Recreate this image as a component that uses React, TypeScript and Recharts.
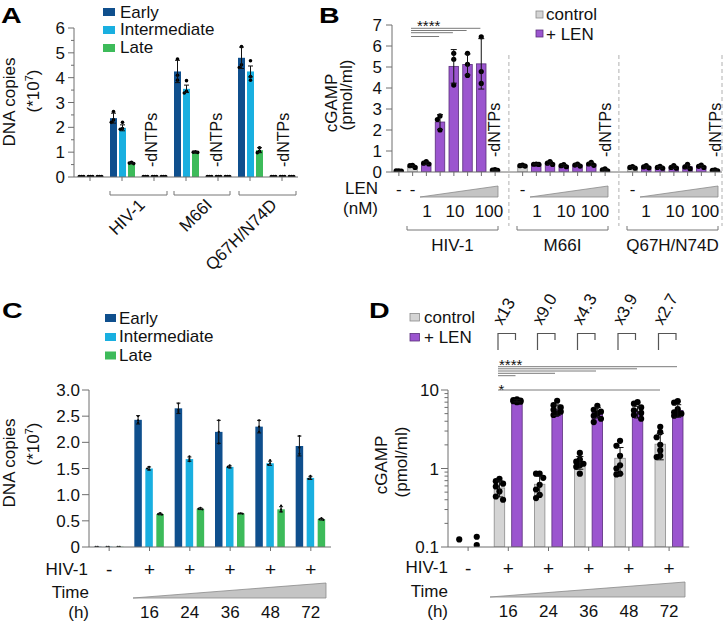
import React from 'react';
import { BarChart, Bar, XAxis, YAxis } from 'recharts';

const FONT = '"Liberation Sans", Arial, Helvetica, sans-serif';
const AX = '#6e6e6e';
const EARLY = '#0f4f8d';
const INTER = '#19afe0';
const LATE = '#3dbb5a';
const CTRL = '#d4d4d4';
const CTRL_LINE = '#8a8a8a';
const LEN = '#9b55cf';
const LEN_LINE = '#5a2f7c';

// ---------------- Panel A ----------------
const aGroups = ['mock', 'HIV-1', 'dNTPs-1', 'M66I', 'dNTPs-2', 'Q67H/N74D', 'dNTPs-3'];
const aEarly = [0.01, 2.37, 0.01, 4.25, 0.01, 4.8, 0.01];
const aEarlyErr = [0, 0.2, 0, 0.45, 0, 0.43, 0];
const aEarlyReps = [[0.02, 0.02, 0.02], [2.64, 2.3, 2.2], [0.02, 0.02, 0.02], [4.75, 4.1, 3.9], [0.02, 0.02, 0.02], [5.25, 4.52, 4.41], [0.02, 0.02, 0.02]];
const aInter = [0.01, 1.98, 0.01, 3.55, 0.01, 4.25, 0.01];
const aInterErr = [0, 0.12, 0, 0.15, 0, 0.22, 0];
const aInterReps = [[0.02, 0.02, 0.02], [2.2, 1.95, 1.92], [0.02, 0.02, 0.02], [3.88, 3.45, 3.38], [0.02, 0.02, 0.02], [4.68, 4.05, 3.9], [0.02, 0.02, 0.02]];
const aLate = [0.01, 0.56, 0.01, 1.0, 0.01, 1.08, 0.01];
const aLateErr = [0, 0.03, 0, 0.02, 0, 0.1, 0];
const aLateReps = [[0.02, 0.02, 0.02], [0.59, 0.56, 0.54], [0.02, 0.02, 0.02], [1.01, 1.0, 0.99], [0.02, 0.02, 0.02], [1.18, 1.03, 0.98], [0.02, 0.02, 0.02]];
const aYTicks = [0, 0.5, 1, 1.5, 2, 2.5, 3, 3.5, 4, 4.5, 5, 5.5, 6];
const aYLabels: Record<string, string> = { '0': '0', '1': '1', '2': '2', '3': '3', '4': '4', '5': '5', '6': '6' };

// ---------------- Panel B ----------------
const bSlots = ['s0', 's1', 's2', 's3', 's4', 's5', 's6', 's7', 's8', 's9', 's10', 's11', 's12', 's13', 's14', 's15', 's16', 's17', 's18', 's19', 's20', 's21', 's22', 's23'];
const bKind = ['ctrl', 'ctrl', 'len', 'len', 'len', 'len', 'len', 'len', 'gap', 'ctrl', 'len', 'len', 'len', 'len', 'len', 'len', 'gap', 'ctrl', 'len', 'len', 'len', 'len', 'len', 'len'];
const bVals = [0.05, 0.27, 0.42, 2.38, 5.03, 5.12, 5.15, 0.09, 0, 0.3, 0.37, 0.42, 0.3, 0.33, 0.38, 0.1, 0, 0.22, 0.24, 0.22, 0.23, 0.25, 0.27, 0.08];
const bErr = [0.01, 0.05, 0.06, 0.35, 0.8, 0.5, 1.2, 0.02, 0, 0.03, 0.02, 0.07, 0.05, 0.05, 0.07, 0.04, 0, 0.04, 0.05, 0.04, 0.06, 0.09, 0.05, 0.02];
const bReps = [[0.06, 0.05, 0.04], [0.32, 0.3, 0.22], [0.5, 0.42, 0.38], [2.67, 2.5, 2.0], [5.65, 5.37, 4.14], [5.65, 5.13, 4.6], [6.44, 4.78, 4.22], [0.12, 0.09, 0.08], [],
  [0.33, 0.3, 0.28], [0.38, 0.37, 0.36], [0.5, 0.42, 0.36], [0.35, 0.3, 0.25], [0.38, 0.33, 0.28], [0.46, 0.38, 0.32], [0.15, 0.1, 0.06], [],
  [0.26, 0.22, 0.18], [0.3, 0.24, 0.2], [0.27, 0.22, 0.18], [0.3, 0.22, 0.18], [0.36, 0.24, 0.16], [0.33, 0.27, 0.22], [0.1, 0.08, 0.06]];
const bLenRow = ['-', '-', '', '', '', '', '', '', '', '-', '', '', '', '', '', '', '', '-', '', '', '', '', '', ''];
const bYTicks = [0, 1, 2, 3, 4, 5, 6, 7];
const bYLabels: Record<string, string> = { '0': '0', '1': '1', '2': '2', '3': '3', '4': '4', '5': '5', '6': '6', '7': '7' };
const bDoses = ['1', '10', '100'];
const bViruses = ['HIV-1', 'M66I', 'Q67H/N74D'];

// ---------------- Panel C ----------------
const cGroups = ['mock', '16', '24', '36', '48', '72'];
const cHiv = ['-', '+', '+', '+', '+', '+'];
const cHours = ['', '16', '24', '36', '48', '72'];
const cEarly = [0.005, 2.43, 2.65, 2.2, 2.3, 1.93];
const cEarlyErr = [0, 0.08, 0.1, 0.22, 0.12, 0.19];
const cEarlyReps = [[0.005, 0.005], [2.5, 2.42, 2.37], [2.74, 2.62, 2.58], [2.42, 2.2, 1.98], [2.42, 2.3, 2.2], [2.12, 1.9, 1.78]];
const cInter = [0.005, 1.5, 1.68, 1.53, 1.6, 1.32];
const cInterErr = [0, 0.03, 0.04, 0.02, 0.04, 0.03];
const cInterReps = [[0.005, 0.005], [1.53, 1.5, 1.48], [1.73, 1.68, 1.64], [1.56, 1.53, 1.52], [1.66, 1.6, 1.57], [1.36, 1.32, 1.3]];
const cLate = [0.005, 0.63, 0.73, 0.64, 0.72, 0.53];
const cLateErr = [0, 0.015, 0.015, 0.005, 0.05, 0.015];
const cLateReps = [[0.005, 0.005], [0.65, 0.63, 0.62], [0.75, 0.73, 0.72], [0.645, 0.64, 0.635], [0.79, 0.72, 0.68], [0.55, 0.53, 0.52]];
const cYTicks = [0, 0.5, 1, 1.5, 2, 2.5, 3];
const cYLabels: Record<string, string> = { '0': '0', '0.5': '0.5', '1': '1.0', '1.5': '1.5', '2': '2.0', '2.5': '2.5', '3': '3.0' };

// ---------------- Panel D ----------------
const dGroups = ['mock', '16', '24', '36', '48', '72'];
const dHiv = ['-', '+', '+', '+', '+', '+'];
const dHours = ['', '16', '24', '36', '48', '72'];
const dCtrl = [0.125, 0.565, 0.63, 1.2, 1.35, 2.04];
const dCtrlErr = [0, 0.13, 0.17, 0.22, 0.5, 0.75];
const dCtrlReps = [[0.125], [0.74, 0.69, 0.64, 0.59, 0.51, 0.44, 0.4], [0.86, 0.86, 0.76, 0.62, 0.54, 0.46, 0.42], [1.58, 1.3, 1.22, 1.15, 1.1, 1.05, 0.86], [2.25, 1.95, 1.45, 1.1, 1.0, 0.86, 0.84], [3.4, 2.9, 2.5, 2.0, 1.7, 1.45, 1.4]];
const dLen = [0.12, 7.3, 5.6, 5.2, 5.3, 5.5];
const dLenErr = [0, 0.25, 0.85, 0.8, 0.9, 1.0];
const dLenReps = [[0.135, 0.106], [7.6, 7.45, 7.35, 7.25, 7.2, 7.1, 7.0], [7.3, 6.4, 6.0, 5.6, 5.3, 5.0, 4.8], [6.3, 5.6, 5.3, 5.0, 4.7, 4.3, 3.9], [7.0, 6.7, 6.0, 5.5, 5.1, 4.8, 4.3], [7.2, 6.9, 5.7, 5.2, 5.0, 4.9, 4.7]];
const dNoBar = [true, false, false, false, false, false];
const dFolds = ['x13', 'x9.0', 'x4.3', 'x3.9', 'x2.7'];
const dYTicks = [0.1, 0.2, 0.3, 0.4, 0.5, 0.6, 0.7, 0.8, 0.9, 1, 2, 3, 4, 5, 6, 7, 8, 9, 10];
const dYLabels: Record<string, string> = { '0.1': '0.1', '1': '1', '10': '10' };

// ---------------- table builders ----------------
const aData = aGroups.map((g, i) => ({ g, early: aEarly[i], earlyErr: aEarlyErr[i], earlyReps: aEarlyReps[i], inter: aInter[i], interErr: aInterErr[i], interReps: aInterReps[i], late: aLate[i], lateErr: aLateErr[i], lateReps: aLateReps[i] }));
const bData = bSlots.map((s, i) => ({ s, v: bVals[i], err: bErr[i], reps: bReps[i], gap: bKind[i] === 'gap', fill: bKind[i] === 'len' ? LEN : CTRL, line: bKind[i] === 'len' ? LEN_LINE : CTRL_LINE }));
const cData = cGroups.map((g, i) => ({ g, early: cEarly[i], earlyErr: cEarlyErr[i], earlyReps: cEarlyReps[i], inter: cInter[i], interErr: cInterErr[i], interReps: cInterReps[i], late: cLate[i], lateErr: cLateErr[i], lateReps: cLateReps[i] }));
const dData = dGroups.map((g, i) => ({ g, ctrl: dCtrl[i], ctrlErr: dCtrlErr[i], ctrlReps: dCtrlReps[i], len: dLen[i], lenErr: dLenErr[i], lenReps: dLenReps[i], noBar: dNoBar[i] }));

// ---------------- helpers ----------------
function placeDots(cx: number, ys: number[], r: number, step: number, maxK: number) {
  const placed: [number, number][] = [];
  const ks: number[] = [0];
  for (let k = 1; k <= maxK; k++) ks.push(-k, k);
  for (const py of ys) {
    let best = cx;
    let bestD = -1;
    for (const k of ks) {
      const px = cx + k * step;
      let md = Infinity;
      for (const [qx, qy] of placed) md = Math.min(md, Math.hypot(qx - px, qy - py));
      if (md >= 2 * r * 0.85) { best = px; break; }
      if (md > bestD) { bestD = md; best = px; }
    }
    placed.push([best, py]);
  }
  return placed;
}

interface Cfg {
  key: string; errKey: string; repsKey: string;
  fill?: string; fillKey?: string; stroke?: string; strokeKey?: string; sw: number;
  r: number; cap: number; min: number; max: number; log?: boolean; step: number; maxK: number; noBarKey?: string;
}

function makeShape(c: Cfg) {
  const f = (v: number) => (c.log ? Math.log10(Math.max(v, 1e-9)) : v);
  return (props: any) => {
    const { x, y, width, height, payload, background } = props;
    if (x == null || !payload) return <g />;
    const mean: number = payload[c.key];
    let toY: (v: number) => number;
    if (background && background.height > 0 && isFinite(background.y)) {
      toY = (v) => background.y + background.height * (f(c.max) - f(Math.max(v, c.min))) / (f(c.max) - f(c.min));
    } else {
      const bottom = y + height;
      const denom = f(mean) - f(c.min) || 1;
      toY = (v) => bottom - height * (f(Math.max(v, c.min)) - f(c.min)) / denom;
    }
    const cx = x + width / 2;
    const fill = c.fillKey ? payload[c.fillKey] : c.fill;
    const stroke = c.strokeKey ? payload[c.strokeKey] : c.stroke;
    const noBar = c.noBarKey ? payload[c.noBarKey] : false;
    const err: number = payload[c.errKey] || 0;
    const reps: number[] = payload[c.repsKey] || [];
    const e1 = toY(mean + err);
    const e2 = toY(Math.max(mean - err, c.min));
    const dots = placeDots(cx, reps.map(toY), c.r, c.step, c.maxK);
    return (
      <g>
        {!noBar && height > 0 && (
          <rect x={x} y={y} width={width} height={height} fill={fill} stroke={stroke || 'none'} strokeWidth={c.sw} />
        )}
        {dots.map(([px, py], i) => (
          <circle key={i} cx={px} cy={py} r={c.r} fill="#000" />
        ))}
        {err > 0 && (
          <g stroke="#111" strokeWidth={1}>
            <line x1={cx} x2={cx} y1={e1} y2={e2} />
            <line x1={cx - c.cap / 2} x2={cx + c.cap / 2} y1={e1} y2={e1} />
            <line x1={cx - c.cap / 2} x2={cx + c.cap / 2} y1={e2} y2={e2} />
          </g>
        )}
      </g>
    );
  };
}

function yTick(labels: Record<string, string>, major: number, minor: number, gap: number) {
  return (props: any) => {
    const { x, y, payload } = props;
    const lab = labels[String(payload.value)];
    const len = lab !== undefined ? major : minor;
    return (
      <g>
        <line x1={x} x2={x - len} y1={y} y2={y} stroke={AX} strokeWidth={1} />
        {lab !== undefined && (
          <text x={x - gap} y={y + 6} textAnchor="end" fontSize={17} fontFamily={FONT} fill="#111">{lab}</text>
        )}
      </g>
    );
  };
}

const aXTick = (props: any) => {
  const { x, y } = props;
  return <line x1={x} x2={x} y1={y} y2={y + 4} stroke={AX} />;
};

const bXTick = (props: any) => {
  const { x, y, payload } = props;
  const i = bSlots.indexOf(payload.value);
  if (i < 0 || bKind[i] === 'gap') return <g />;
  return (
    <g>
      <line x1={x} x2={x} y1={y} y2={y + 4} stroke={AX} />
      {bLenRow[i] && (
        <text x={x} y={y + 23} textAnchor="middle" fontSize={17} fontFamily={FONT} fill="#111">{bLenRow[i]}</text>
      )}
    </g>
  );
};

function timeTick(groups: string[], hiv: string[], hours: string[], dy1: number, dy2: number) {
  return (props: any) => {
    const { x, y, payload } = props;
    const i = groups.indexOf(payload.value);
    return (
      <g>
        <line x1={x} x2={x} y1={y} y2={y + 4} stroke={AX} />
        <text x={x} y={y + dy1} textAnchor="middle" fontSize={19} fontFamily={FONT} fill="#111">{hiv[i]}</text>
        <text x={x} y={y + dy2} textAnchor="middle" fontSize={17} fontFamily={FONT} fill="#111">{hours[i]}</text>
      </g>
    );
  };
}

function Txt({ x, y, s = 17, a = 'start', r = 0, w, children, fill = '#111' }: any) {
  return (
    <text transform={`translate(${x},${y})${r ? ` rotate(${r})` : ''}`} fontSize={s} textAnchor={a} fontWeight={w} fill={fill} fontFamily={FONT}>
      {children}
    </text>
  );
}

function Letter({ x, y, children }: any) {
  return (
    <text transform={`translate(${x},${y}) scale(1.3,1)`} fontSize={22} fontWeight="bold" fill="#000" fontFamily={FONT}>
      {children}
    </text>
  );
}

function Ten7({ x, y }: any) {
  return (
    <text transform={`translate(${x},${y}) rotate(-90)`} fontSize={17} textAnchor="middle" fill="#111" fontFamily={FONT}>
      (*10<tspan dy={-6} fontSize={11}>7</tspan><tspan dy={6}>)</tspan>
    </text>
  );
}

function Bracket({ x1, x2, y, h = 4 }: any) {
  return <path d={`M${x1},${y - h} V${y} H${x2} V${y - h}`} fill="none" stroke="#777" strokeWidth={1} />;
}

function Overlay() {
  const gl = '#7a7a7a';
  return (
    <svg width={724} height={622} style={{ position: 'absolute', left: 0, top: 0, pointerEvents: 'none' }}>
      {/* Panel letters */}
      <Letter x={1} y={23}>A</Letter>
      <Letter x={319} y={23}>B</Letter>
      <Letter x={2} y={318}>C</Letter>
      <Letter x={369} y={318}>D</Letter>

      {/* ---- A ---- */}
      <rect x={103} y={8} width={12} height={8} fill={EARLY} />
      <rect x={103} y={26} width={12} height={8} fill={INTER} />
      <rect x={103} y={44} width={12} height={8} fill={LATE} />
      <Txt x={120} y={17.5}>Early</Txt>
      <Txt x={120} y={35.3}>Intermediate</Txt>
      <Txt x={120} y={53}>Late</Txt>
      <Txt x={14.5} y={102} r={-90} a="middle">DNA copies</Txt>
      <Ten7 x={38.5} y={91} />
      {[151, 216, 283].map((x, i) => (
        <Txt key={i} x={x + 5.8} y={167} r={-90} s={16}>-dNTPs</Txt>
      ))}
      <Bracket x1={110} x2={167} y={195} />
      <Bracket x1={174} x2={230} y={195} />
      <Bracket x1={239} x2={296} y={195} />
      <Txt x={146} y={206} r={-45} a="end">HIV-1</Txt>
      <Txt x={213} y={206} r={-45} a="end">M66I</Txt>
      <Txt x={278} y={206} r={-45} a="end">Q67H/N74D</Txt>

      {/* ---- B ---- */}
      <rect x={536} y={11} width={7} height={7} fill={CTRL} stroke={CTRL_LINE} strokeWidth={0.8} />
      <rect x={536} y={30} width={7} height={7} fill={LEN} stroke={LEN_LINE} strokeWidth={0.8} />
      <Txt x={546} y={20}>control</Txt>
      <Txt x={546} y={40}>+ LEN</Txt>
      <Txt x={337} y={103} r={-90} a="middle">cGAMP</Txt>
      <Txt x={351.5} y={95} r={-90} a="middle">(pmol/ml)</Txt>
      {[494, 605, 715].map((x, i) => (
        <Txt key={i} x={x + 5.8} y={157} r={-90} s={16}>-dNTPs</Txt>
      ))}
      {[508.9, 618.9, 722].map((x, i) => (
        <line key={i} x1={x} x2={x} y1={55} y2={226} stroke="#b0b0b0" strokeDasharray="4 3" strokeWidth={1} />
      ))}
      <Txt x={417} y={31} s={15}>****</Txt>
      {[[28.3, 480.4], [30.5, 466.6], [32.7, 452.9], [36.5, 439.1]].map(([y, x2], i) => (
        <line key={i} x1={411} x2={x2} y1={y} y2={y} stroke={gl} strokeWidth={1} />
      ))}
      <Txt x={378} y={194} a="end">LEN</Txt>
      <Txt x={378} y={214} a="end">(nM)</Txt>
      {[[420, 498], [530, 608], [640, 718]].map(([x1, x2], i) => (
        <polygon key={i} points={`${x1},197 ${x2},186 ${x2},197`} fill="#c4c4c4" stroke="#8a8a8a" strokeWidth={0.8} />
      ))}
      {[[427, 455, 489], [537, 566, 595], [646, 675, 705]].map((xs, i) =>
        xs.map((x, j) => (
          <Txt key={`${i}-${j}`} x={x} y={217} a="middle">{bDoses[j]}</Txt>
        ))
      )}
      {[[407, 498], [517, 608], [627, 718]].map(([x1, x2], i) => (
        <g key={i}>
          <Bracket x1={x1} x2={x2} y={230} />
          <Txt x={(x1 + x2) / 2} y={251} a="middle">{bViruses[i]}</Txt>
        </g>
      ))}

      {/* ---- C ---- */}
      <rect x={105} y={314} width={11} height={8} fill={EARLY} />
      <rect x={105} y={333} width={11} height={8} fill={INTER} />
      <rect x={105} y={351.5} width={11} height={8} fill={LATE} />
      <Txt x={119} y={323.5}>Early</Txt>
      <Txt x={119} y={342}>Intermediate</Txt>
      <Txt x={119} y={360.7}>Late</Txt>
      <Txt x={15} y={463} r={-90} a="middle">DNA copies</Txt>
      <Ten7 x={38.5} y={444} />
      <Txt x={88} y={575} a="end">HIV-1</Txt>
      <Txt x={89} y={598} a="end">Time</Txt>
      <Txt x={89} y={618} a="end">(h)</Txt>
      <polygon points="133,598 326,583 326,598" fill="#c4c4c4" stroke="#8a8a8a" strokeWidth={0.8} />

      {/* ---- D ---- */}
      <rect x={410} y={313.5} width={9.5} height={7.5} fill={CTRL} stroke={CTRL_LINE} strokeWidth={0.8} />
      <rect x={410} y={333.5} width={9.5} height={7.5} fill={LEN} stroke={LEN_LINE} strokeWidth={0.8} />
      <Txt x={424} y={323}>control</Txt>
      <Txt x={424} y={343}>+ LEN</Txt>
      <Txt x={387} y={465} r={-90} a="middle">cGAMP</Txt>
      <Txt x={406.5} y={462} r={-90} a="middle">(pmol/ml)</Txt>
      <Txt x={448} y={573} a="end">HIV-1</Txt>
      <Txt x={448} y={597} a="end">Time</Txt>
      <Txt x={448} y={617} a="end">(h)</Txt>
      <polygon points="490,597 685,582 685,597" fill="#c4c4c4" stroke="#8a8a8a" strokeWidth={0.8} />
      {[498, 537.5, 577.5, 618, 658.5].map((x, i) => (
        <g key={i}>
          <path d={`M${x},350 V333.5 H${x + 17.5} V340`} fill="none" stroke="#555" strokeWidth={1.2} />
          <Txt x={x + 4} y={326} r={-60}>{dFolds[i]}</Txt>
        </g>
      ))}
      <Txt x={499} y={369.6} s={15}>****</Txt>
      {[[366.7, 677], [368.8, 637], [371, 596], [373.3, 555], [375.7, 515.5]].map(([y, x2], i) => (
        <line key={i} x1={498} x2={x2} y1={y} y2={y} stroke={gl} strokeWidth={1} />
      ))}
      <Txt x={498.5} y={394.6} s={15}>*</Txt>
      <line x1={498} x2={660} y1={390} y2={390} stroke={gl} strokeWidth={1} />
    </svg>
  );
}

export default function App() {
  return (
    <div style={{ position: 'absolute', left: 0, top: 0, width: 724, height: 622, background: '#fff', fontFamily: FONT, overflow: 'hidden' }}>
      {/* Panel A */}
      <div style={{ position: 'absolute', left: 0, top: 0 }}>
        <BarChart width={310} height={230} data={aData} margin={{ top: 28, right: 12, bottom: 0, left: 0 }} barGap={2}>
          <XAxis dataKey="g" height={53} interval={0} tickSize={0} tickMargin={0} tickLine={false} axisLine={{ stroke: AX }} tick={aXTick} />
          <YAxis width={74} type="number" domain={[0, 6]} ticks={aYTicks} interval={0} tickSize={0} tickMargin={0} tickLine={false} axisLine={{ stroke: AX }} tick={yTick(aYLabels, 6, 3, 9)} allowDataOverflow />
          <Bar dataKey="early" barSize={7} isAnimationActive={false} shape={makeShape({ key: 'early', errKey: 'earlyErr', repsKey: 'earlyReps', fill: EARLY, sw: 0, r: 1.8, cap: 5, min: 0, max: 6, step: 2.2, maxK: 1 })} />
          <Bar dataKey="inter" barSize={7} isAnimationActive={false} shape={makeShape({ key: 'inter', errKey: 'interErr', repsKey: 'interReps', fill: INTER, sw: 0, r: 1.8, cap: 5, min: 0, max: 6, step: 2.2, maxK: 1 })} />
          <Bar dataKey="late" barSize={7} isAnimationActive={false} shape={makeShape({ key: 'late', errKey: 'lateErr', repsKey: 'lateReps', fill: LATE, sw: 0, r: 1.8, cap: 5, min: 0, max: 6, step: 2.2, maxK: 1 })} />
        </BarChart>
      </div>

      {/* Panel B */}
      <div style={{ position: 'absolute', left: 300, top: 0 }}>
        <BarChart width={424} height={260} data={bData} margin={{ top: 25, right: 2, bottom: 0, left: 0 }}>
          <XAxis dataKey="s" height={88} interval={0} tickSize={0} tickMargin={0} tickLine={false} axisLine={{ stroke: AX }} tick={bXTick} />
          <YAxis width={92} type="number" domain={[0, 7]} ticks={bYTicks} interval={0} tickSize={0} tickMargin={0} tickLine={false} axisLine={{ stroke: AX }} tick={yTick(bYLabels, 6, 3, 10)} allowDataOverflow />
          <Bar dataKey="v" barSize={9.5} isAnimationActive={false} shape={makeShape({ key: 'v', errKey: 'err', repsKey: 'reps', fillKey: 'fill', strokeKey: 'line', sw: 0.8, r: 2.6, cap: 6, min: 0, max: 7, step: 2.6, maxK: 1, noBarKey: 'gap' })} />
        </BarChart>
      </div>

      {/* Panel C */}
      <div style={{ position: 'absolute', left: 0, top: 300 }}>
        <BarChart width={340} height={322} data={cData} margin={{ top: 90, right: 9, bottom: 0, left: 0 }} barGap={3.5}>
          <XAxis dataKey="g" height={75} interval={0} tickSize={0} tickMargin={0} tickLine={false} axisLine={{ stroke: AX }} tick={timeTick(cGroups, cHiv, cHours, 29, 71)} />
          <YAxis width={89} type="number" domain={[0, 3]} ticks={cYTicks} interval={0} tickSize={0} tickMargin={0} tickLine={false} axisLine={{ stroke: AX }} tick={yTick(cYLabels, 7, 3, 9)} allowDataOverflow />
          <Bar dataKey="early" barSize={7.5} isAnimationActive={false} shape={makeShape({ key: 'early', errKey: 'earlyErr', repsKey: 'earlyReps', fill: EARLY, sw: 0, r: 1.1, cap: 4, min: 0, max: 3, step: 2, maxK: 1 })} />
          <Bar dataKey="inter" barSize={7.5} isAnimationActive={false} shape={makeShape({ key: 'inter', errKey: 'interErr', repsKey: 'interReps', fill: INTER, sw: 0, r: 1.1, cap: 4, min: 0, max: 3, step: 2, maxK: 1 })} />
          <Bar dataKey="late" barSize={7.5} isAnimationActive={false} shape={makeShape({ key: 'late', errKey: 'lateErr', repsKey: 'lateReps', fill: LATE, sw: 0, r: 1.1, cap: 4, min: 0, max: 3, step: 2, maxK: 1 })} />
        </BarChart>
      </div>

      {/* Panel D */}
      <div style={{ position: 'absolute', left: 360, top: 300 }}>
        <BarChart width={364} height={322} data={dData} margin={{ top: 90, right: 34.8, bottom: 0, left: 0 }} barGap={7}>
          <XAxis dataKey="g" height={75} interval={0} tickSize={0} tickMargin={0} tickLine={false} axisLine={{ stroke: AX }} tick={timeTick(dGroups, dHiv, dHours, 28, 70)} />
          <YAxis width={88} type="number" scale="log" domain={[0.1, 10]} ticks={dYTicks} interval={0} tickSize={0} tickMargin={0} tickLine={false} axisLine={{ stroke: AX }} tick={yTick(dYLabels, 7, 3.5, 9)} allowDataOverflow />
          <Bar dataKey="ctrl" barSize={10.5} isAnimationActive={false} shape={makeShape({ key: 'ctrl', errKey: 'ctrlErr', repsKey: 'ctrlReps', fill: CTRL, stroke: CTRL_LINE, sw: 0.8, r: 3.1, cap: 7, min: 0.1, max: 10, log: true, step: 3.6, maxK: 1, noBarKey: 'noBar' })} />
          <Bar dataKey="len" barSize={10.5} isAnimationActive={false} shape={makeShape({ key: 'len', errKey: 'lenErr', repsKey: 'lenReps', fill: LEN, stroke: LEN_LINE, sw: 0.8, r: 3.1, cap: 7, min: 0.1, max: 10, log: true, step: 3.6, maxK: 1, noBarKey: 'noBar' })} />
        </BarChart>
      </div>

      <Overlay />
    </div>
  );
}
